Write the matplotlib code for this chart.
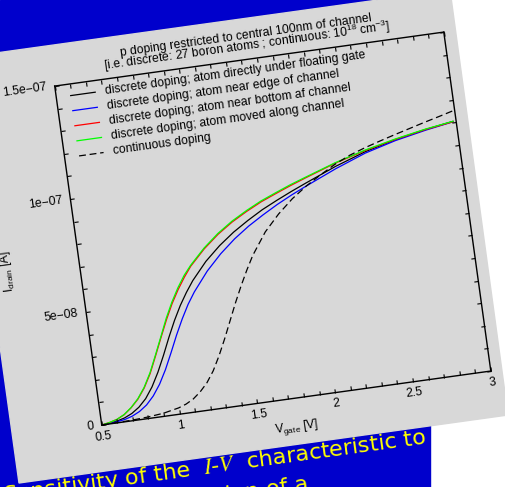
import numpy as np
import matplotlib
matplotlib.use("Agg")
import matplotlib.pyplot as plt
from matplotlib.patches import Polygon, Rectangle
from matplotlib.transforms import Affine2D
from matplotlib.ticker import FuncFormatter
import mpl_toolkits.axisartist.floating_axes as floating_axes
from mpl_toolkits.axisartist.grid_finder import FixedLocator

plt.rcParams['font.family'] = ['Liberation Sans', 'DejaVu Sans']
plt.rcParams['mathtext.fontset'] = 'custom'
plt.rcParams['mathtext.rm'] = 'Liberation Sans'
plt.rcParams['mathtext.it'] = 'Liberation Sans:italic'
plt.rcParams['mathtext.bf'] = 'Liberation Sans:bold'

# -------------------------------
# data (drain current in units of 1e-8 A)
# -------------------------------
v_gate = [0.5, 0.55, 0.6, 0.65, 0.7, 0.75, 0.8, 0.85, 0.9, 0.95, 1.0, 1.05, 1.1, 1.15,
          1.2, 1.3, 1.4, 1.5, 1.6, 1.7, 1.8, 1.9, 2.0, 2.2, 2.4, 2.6, 2.8, 2.98]
i_under_gate = [0, 0.03, 0.08, 0.17, 0.32, 0.55, 0.88, 1.35, 1.95, 2.65, 3.4, 4.1, 4.72, 5.25,
                5.72, 6.48, 7.08, 7.58, 8.0, 8.38, 8.7, 9.0, 9.28, 9.82, 10.28, 10.62, 10.88, 11.07]
i_edge = [0, 0.02, 0.05, 0.1, 0.2, 0.36, 0.6, 0.95, 1.42, 2.02, 2.72, 3.45, 4.12, 4.72,
          5.22, 6.05, 6.72, 7.28, 7.75, 8.15, 8.52, 8.85, 9.15, 9.72, 10.22, 10.58, 10.85, 11.05]
i_bottom = [0, 0.06, 0.15, 0.31, 0.57, 0.9, 1.35, 1.94, 2.68, 3.44, 4.18, 4.85, 5.42, 5.92,
            6.36, 7.03, 7.58, 8.03, 8.4, 8.73, 9.0, 9.26, 9.5, 9.96, 10.33, 10.63, 10.88, 11.05]
i_moved = [0, 0.06, 0.15, 0.32, 0.58, 0.92, 1.38, 1.98, 2.72, 3.48, 4.25, 4.92, 5.5, 6.0,
           6.4, 7.07, 7.62, 8.07, 8.44, 8.77, 9.04, 9.3, 9.53, 9.98, 10.35, 10.65, 10.9, 11.07]

v_cont = [0.5, 0.6, 0.7, 0.8, 0.9, 1.0, 1.05, 1.1, 1.15, 1.2, 1.25, 1.3, 1.35, 1.4, 1.45,
          1.5, 1.55, 1.6, 1.7, 1.8, 1.9, 2.0, 2.1, 2.2, 2.3, 2.4, 2.5, 2.6, 2.7, 2.8, 2.9, 2.99]
i_cont = [0, 0.01, 0.03, 0.07, 0.14, 0.28, 0.4, 0.58, 0.85, 1.2, 1.68, 2.3, 3.0, 3.75, 4.5,
          5.2, 5.85, 6.45, 7.4, 8.1, 8.68, 9.15, 9.55, 9.92, 10.22, 10.45, 10.65, 10.84, 11.02,
          11.2, 11.37, 11.53]

series_labels = ["discrete doping; atom directly under floating gate",
                 "discrete doping; atom near edge of channel",
                 "discrete doping; atom near bottom af channel",
                 "discrete doping; atom moved along channel",
                 "continuous doping"]

x_ticks = [round(0.5 + 0.1 * k, 1) for k in range(26)]
y_ticks = [k * 1e-8 for k in range(16)]
x_tick_labels = {0.5: "0.5", 1.0: "1", 1.5: "1.5", 2.0: "2", 2.5: "2.5", 3.0: "3"}
y_tick_labels = {0: "0", 5: "5e\u221208", 10: "1e\u221207", 15: "1.5e\u221207"}

title_1 = "p doping restricted to central 100nm of channel"
title_2 = "[i.e. discrete: 27 boron atoms ; continuous: 10$^{18}$ cm$^{-3}$]"

gray = "#d8d8d8"
blue_bg = "#0000cc"
theta = 7.9          # rotation of the whole panel
fs = 8.7

# -------------------------------
# background slide
# -------------------------------
fig = plt.figure(figsize=(5.06, 4.87), dpi=100)
fig.patch.set_facecolor("white")
bg = fig.add_axes([0, 0, 1, 1])
bg.set_xlim(0, 506)
bg.set_ylim(487, 0)
bg.axis("off")
bg.add_patch(Rectangle((0, 0), 430, 487, color=blue_bg, zorder=1))
bg.text(427, 443, "Sensitivity of the  $I$-$V$  characteristic to", color="#ffff00",
        fontsize=16, family="DejaVu Sans", math_fontfamily="stix",
        ha="right", va="baseline", rotation=theta, rotation_mode="anchor", zorder=2)
bg.text(309, 490, "the position of a", color="#ffff00",
        fontsize=16, family="DejaVu Sans",
        ha="right", va="baseline", rotation=theta, rotation_mode="anchor", zorder=2)
panel = [(19, 483), (508, 415), (450, -10), (-40, 58)]
bg.add_patch(Polygon(panel, closed=True, color=gray, zorder=3))

# -------------------------------
# rotated chart
# -------------------------------
px_x = 2.5 / 392.8        # volts per pixel
px_y = 1.5e-7 / 342.2     # amps per pixel
tr = Affine2D().scale(1 / px_x, 1 / px_y).rotate_deg(theta)
grid_helper = floating_axes.GridHelperCurveLinear(
    tr, extremes=(0.5, 3.0, 0, 1.5e-7),
    grid_locator1=FixedLocator(x_ticks),
    grid_locator2=FixedLocator(y_ticks),
    tick_formatter1=FuncFormatter(lambda v, pos: ""),
    tick_formatter2=FuncFormatter(lambda v, pos: ""))
ax = fig.add_axes([0.0995, 0.1192, 0.8791, 0.8230],
                  axes_class=floating_axes.FloatingAxes, grid_helper=grid_helper)
ax.patch.set_facecolor(gray)
ax.patch.set_edgecolor("none")
for side in ["left", "right", "bottom", "top"]:
    ax.axis[side].major_ticklabels.set_visible(False)
    ax.axis[side].major_ticks.set_ticksize(3)
    ax.axis[side].major_ticks.set_tick_out(False)
    ax.axis[side].line.set_linewidth(1.0)

aux = ax.get_aux_axes(tr)
frac = Affine2D().scale(2.5, 1.5e-7).translate(0.5, 0) + aux.transData

colors = ["black", "#0000ff", "#ff0000", "#00ff00"]
for ys, c in zip([i_under_gate, i_edge, i_bottom, i_moved], colors):
    aux.plot(v_gate, np.array(ys) * 1e-8, color=c, lw=0.9)
aux.plot(v_cont, np.array(i_cont) * 1e-8, color="black", lw=0.9, ls=(0, (5.5, 3)))

txt = dict(fontsize=fs, transform_rotates_text=True, rotation_mode="anchor")

# tick labels
for v, lab in x_tick_labels.items():
    aux.text(v, -11.5 * px_y, lab, ha="center", va="center", **txt)
for k, lab in y_tick_labels.items():
    aux.text(0.5 - 8 * px_x, k * 1e-8, lab, ha="right", va="center", **txt)

# axis labels
aux.text(0.49, -0.086, "V$_{\\mathrm{gate}}$ [V]", transform=frac,
         ha="center", va="center", **txt)
aux.text(-0.185, 0.482, "I$_{\\mathrm{drain}}$ [A]", transform=frac, rotation=90,
         ha="center", va="center", **txt)

# title
aux.text(0.5, 1.059, title_1, transform=frac, ha="center", va="baseline", **txt)
aux.text(0.5, 1.027, title_2, transform=frac, ha="center", va="baseline", **txt)

# legend
styles = [dict(color=c) for c in colors] + [dict(color="black", ls=(0, (5.5, 3)))]
for i, (lab, st) in enumerate(zip(series_labels, styles)):
    y = 0.966 - i * 0.0445
    aux.plot([0.037, 0.10], [y, y], transform=frac, lw=0.9, **st)
    aux.text(0.125, y, lab, transform=frac, ha="left", va="center", **txt)

fig.savefig("out.png", dpi=100)
plt.close(fig)
